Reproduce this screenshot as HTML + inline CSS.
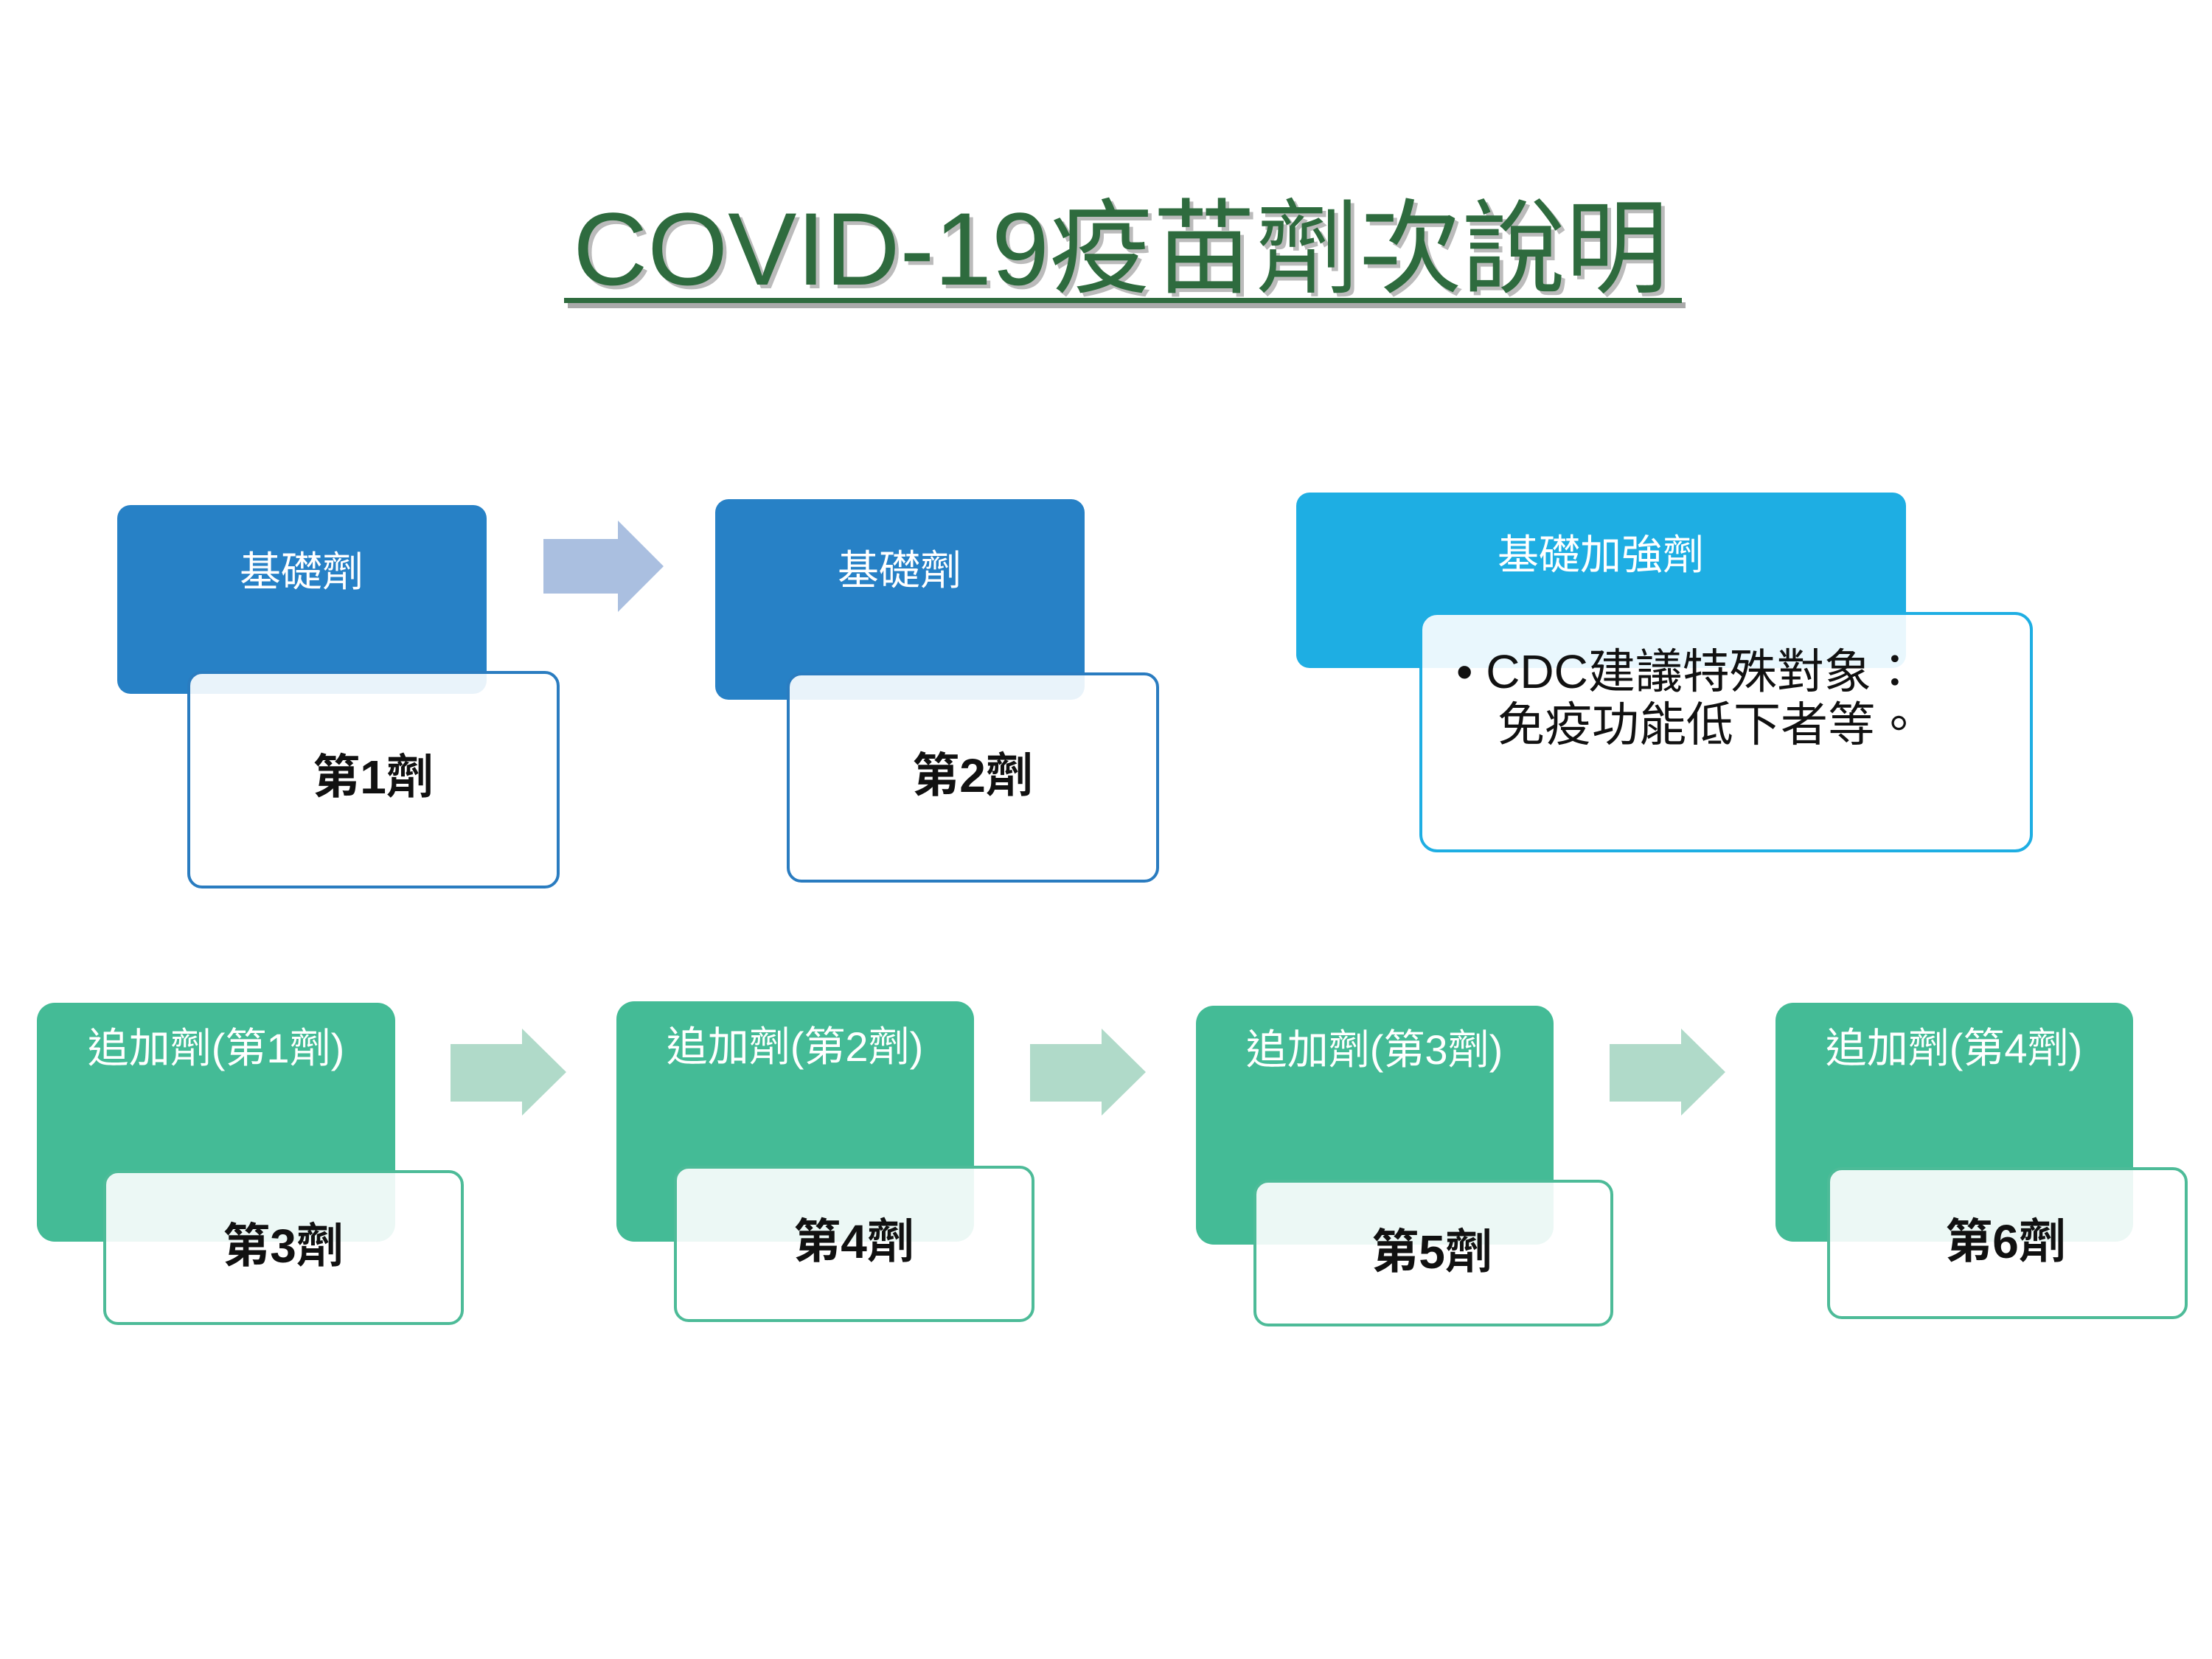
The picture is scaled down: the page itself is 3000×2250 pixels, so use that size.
<!DOCTYPE html>
<html><head><meta charset="utf-8"><style>
body{margin:0;width:3000px;height:2250px;background:#fff;position:relative;overflow:hidden;font-family:"Liberation Sans","Noto Sans CJK TC",sans-serif}
.a{position:absolute;box-sizing:border-box}
.t{position:absolute;white-space:nowrap;transform:translate(-50%,-50%);line-height:1}
.bl{background:#2781c6;border-radius:18px}
.gr{background:#44bb96;border-radius:24px}
.wb{background:rgba(255,255,255,0.9);border:4px solid #2a7cc0;border-radius:20px}
.wg{background:rgba(255,255,255,0.9);border:4px solid #4dbb98;border-radius:20px}
.h{color:#fff;font-size:56px}
.d{color:#111;font-size:64px;font-weight:bold}
</style></head><body>
<div class="t" style="left:1520px;top:338px;font-size:140px;color:#bbb;transform:translate(calc(-50% + 5px),calc(-50% + 5px))">COVID-19疫苗劑次說明</div>
<div class="t" style="left:1520px;top:338px;font-size:140px;color:#2e6b3e">COVID-19疫苗劑次說明</div>
<div class="a" style="left:770px;top:410px;width:1516px;height:8px;background:#aaa"></div>
<div class="a" style="left:765px;top:404px;width:1516px;height:7px;background:#2e6b3e"></div>

<div class="a bl" style="left:159px;top:685px;width:501px;height:256px"></div>
<div class="a wb" style="left:254px;top:910px;width:505px;height:295px"></div>
<div class="t h" style="left:409px;top:776px">基礎劑</div>
<div class="t d" style="left:506px;top:1054px">第1劑</div>

<svg class="a" style="left:737px;top:706px" width="163" height="124"><polygon points="0,25 101,25 101,0 163,62 101,124 101,99 0,99" fill="#aabfe0"/></svg>

<div class="a bl" style="left:970px;top:677px;width:501px;height:272px"></div>
<div class="a wb" style="left:1067px;top:912px;width:505px;height:285px"></div>
<div class="t h" style="left:1220px;top:774px">基礎劑</div>
<div class="t d" style="left:1319px;top:1052px">第2劑</div>

<div class="a" style="left:1758px;top:668px;width:827px;height:238px;background:#1eaee3;border-radius:18px"></div>
<div class="a" style="left:1925px;top:830px;width:832px;height:326px;background:rgba(255,255,255,0.9);border:4px solid #1eaee3;border-radius:24px"></div>
<div class="t h" style="left:2171px;top:753px">基礎加強劑</div>
<div class="a" style="left:1975px;top:875px;font-size:64px;color:#111;line-height:72px;white-space:nowrap">•&nbsp;CDC建議特殊對象：<br><span style="padding-left:56px">免疫功能低下者等。</span></div>

<div class="a gr" style="left:50px;top:1360px;width:486px;height:324px"></div>
<div class="a wg" style="left:140px;top:1587px;width:489px;height:210px"></div>
<div class="t h" style="left:293px;top:1422px">追加劑(第1劑)</div>
<div class="t d" style="left:384px;top:1690px">第3劑</div>

<svg class="a" style="left:611px;top:1395px" width="157" height="118"><polygon points="0,21 97,21 97,0 157,59 97,118 97,99 0,99" fill="#b0dac9"/></svg>

<div class="a gr" style="left:836px;top:1358px;width:485px;height:326px"></div>
<div class="a wg" style="left:914px;top:1581px;width:489px;height:212px"></div>
<div class="t h" style="left:1078px;top:1420px">追加劑(第2劑)</div>
<div class="t d" style="left:1158px;top:1684px">第4劑</div>

<svg class="a" style="left:1397px;top:1395px" width="157" height="118"><polygon points="0,21 97,21 97,0 157,59 97,118 97,99 0,99" fill="#b0dac9"/></svg>

<div class="a gr" style="left:1622px;top:1364px;width:485px;height:324px"></div>
<div class="a wg" style="left:1700px;top:1600px;width:488px;height:199px"></div>
<div class="t h" style="left:1864px;top:1424px">追加劑(第3劑)</div>
<div class="t d" style="left:1942px;top:1698px">第5劑</div>

<svg class="a" style="left:2183px;top:1395px" width="157" height="118"><polygon points="0,21 97,21 97,0 157,59 97,118 97,99 0,99" fill="#b0dac9"/></svg>

<div class="a gr" style="left:2408px;top:1360px;width:485px;height:324px"></div>
<div class="a wg" style="left:2478px;top:1583px;width:489px;height:206px"></div>
<div class="t h" style="left:2650px;top:1422px">追加劑(第4劑)</div>
<div class="t d" style="left:2720px;top:1684px">第6劑</div>
</body></html>
